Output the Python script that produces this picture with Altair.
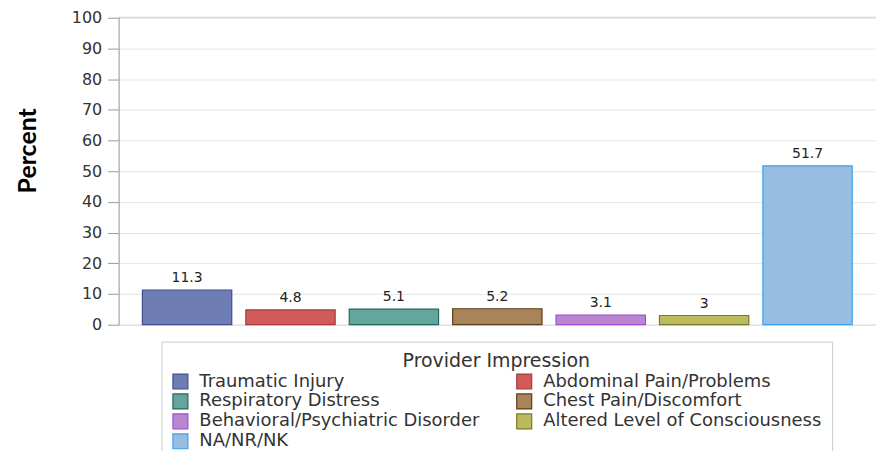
import altair as alt
import pandas as pd

categories = ["Traumatic Injury", "Abdominal Pain/Problems", "Respiratory Distress",
              "Chest Pain/Discomfort", "Behavioral/Psychiatric Disorder",
              "Altered Level of Consciousness", "NA/NR/NK"]
values = [11.3, 4.8, 5.1, 5.2, 3.1, 3, 51.7]
fill_colors = ["#6E7DB3", "#D15A5A", "#66A59D", "#A9845A", "#B987D2", "#BBBB5E", "#98BDE3"]
stroke_colors = ["#3E4E8E", "#A83A3A", "#1E6B5E", "#5E3C14", "#A050D0", "#7A7A22", "#3DA0F0"]
y_ticks = [0, 10, 20, 30, 40, 50, 60, 70, 80, 90, 100]

# legend is laid out column by column: reorder so rows read pairwise
legend_order = [0, 2, 4, 6, 1, 3, 5]
leg_domain = [categories[i] for i in legend_order]
leg_fill = [fill_colors[i] for i in legend_order]
leg_stroke = [stroke_colors[i] for i in legend_order]

df = pd.DataFrame({"Impression": categories, "Percent": values})

x = alt.X("Impression:N", sort=categories, axis=None,
          scale=alt.Scale(paddingInner=0.136, paddingOuter=0.23))
y = alt.Y("Percent:Q", scale=alt.Scale(domain=[0, 100.3], nice=False),
          axis=alt.Axis(values=y_ticks, title="Percent", labelOverlap=False,
                        titleFont="Lato", titleFontSize=25, titleFontWeight="bold",
                        titleColor="#000", titlePadding=31, titleY=134,
                        labelFont="DejaVu Sans", labelFontSize=16, labelColor="#333",
                        tickColor="#999", tickSize=11, labelPadding=6,
                        domainColor="#aaa", gridColor="#e6e6e6"))

legend_kw = dict(title="Provider Impression", orient="none",
                 legendX=43, legendY=326, columns=2,
                 symbolType="square", symbolSize=225, symbolStrokeWidth=1.2,
                 labelFont="DejaVu Sans", labelFontSize=18, labelOffset=10,
                 labelColor="#333", labelLimit=400,
                 titleFont="DejaVu Sans", titleFontSize=19, titleLimit=500,
                 titleFontWeight="normal", titleColor="#333",
                 titleAnchor="middle", columnPadding=34, titlePadding=2,
                 rowPadding=0, padding=10,
                 strokeColor="#ccc", fillColor="white")

bars = alt.Chart(df).mark_bar(strokeWidth=1.2).encode(
    x=x,
    y=y,
    fill=alt.Fill("Impression:N",
                  scale=alt.Scale(domain=leg_domain, range=leg_fill),
                  legend=alt.Legend(**legend_kw)),
    stroke=alt.Stroke("Impression:N",
                      scale=alt.Scale(domain=leg_domain, range=leg_stroke),
                      legend=alt.Legend(**legend_kw)),
)

text = alt.Chart(df).mark_text(dy=-5, fontSize=14, font="DejaVu Sans",
                               color="#222", baseline="bottom").encode(
    x=x,
    y=y,
    text=alt.Text("Percent:Q"),
)

chart = alt.layer(bars, text).properties(
    width=760, height=309,
    autosize=alt.AutoSizeParams(type="none"),
    padding={"left": 111, "top": 8, "right": 0, "bottom": 140},
).configure_view(stroke="#ccc", strokeWidth=1)

chart.save("out.html", embed_options={"renderer": "svg", "actions": False})
